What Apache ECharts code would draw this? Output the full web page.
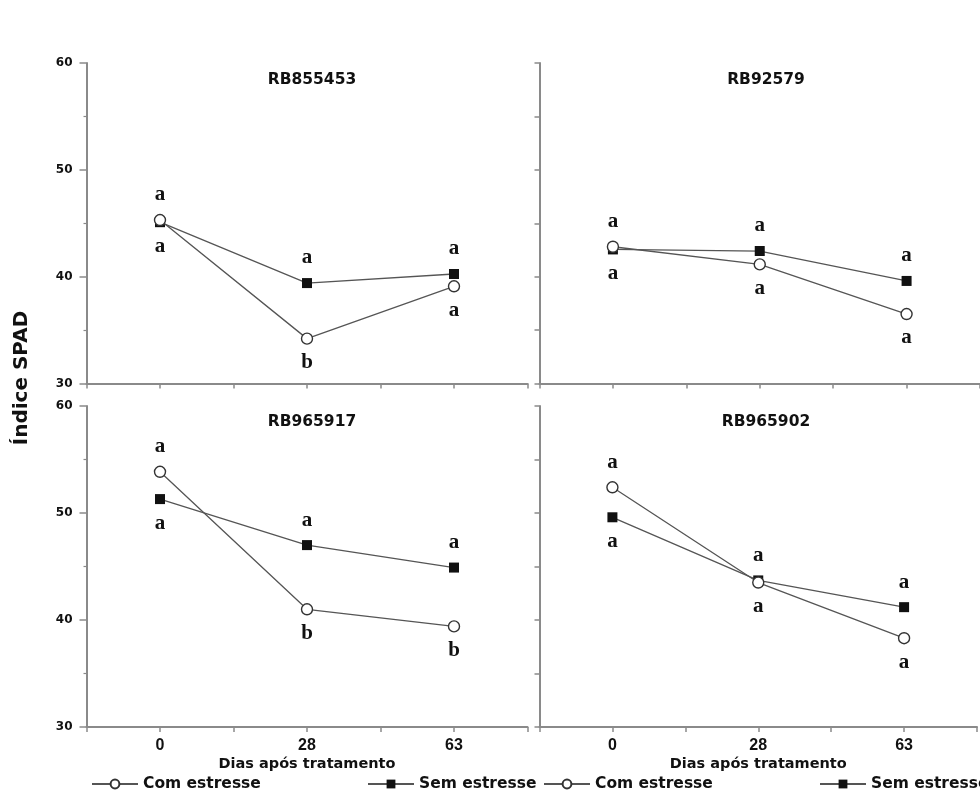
<!DOCTYPE html>
<html>
<head>
<meta charset="utf-8">
<script src="https://cdn.jsdelivr.net/npm/echarts@6/dist/echarts.min.js"></script>
<style>
  html, body { margin: 0; padding: 0; background: #ffffff; }
  #chart { width: 980px; height: 791px; }
</style>
</head>
<body>
<div id="chart"></div>
<script>
// Days after treatment (equally spaced on the axis)
const days = ['0', '28', '63'];

// Cultivar names, one per panel (TL, TR, BL, BR)
const cultivars = ['RB855453', 'RB92579', 'RB965917', 'RB965902'];

// SPAD index with stress (open circles)
const comRB855453 = [45.3, 34.2, 39.1];
const comRB92579  = [42.8, 41.15, 36.5];
const comRB965917 = [53.85, 41.0, 39.4];
const comRB965902 = [52.4, 43.5, 38.3];

// SPAD index without stress (filled squares)
const semRB855453 = [45.1, 39.4, 40.25];
const semRB92579  = [42.55, 42.4, 39.6];
const semRB965917 = [51.3, 47.0, 44.9];
const semRB965902 = [49.6, 43.7, 41.2];

// Mean-comparison letters
const comLetters855453 = ['a', 'b', 'a'];
const semLetters855453 = ['a', 'a', 'a'];
const comLetters92579  = ['a', 'a', 'a'];
const semLetters92579  = ['a', 'a', 'a'];
const comLetters965917 = ['a', 'b', 'b'];
const semLetters965917 = ['a', 'a', 'a'];
const comLetters965902 = ['a', 'a', 'a'];
const semLetters965902 = ['a', 'a', 'a'];

// Y-axis range
const yMin = 30, yMax = 60;

const comAll = [comRB855453, comRB92579, comRB965917, comRB965902];
const semAll = [semRB855453, semRB92579, semRB965917, semRB965902];
const comLet = [comLetters855453, comLetters92579, comLetters965917, comLetters965902];
const semLet = [semLetters855453, semLetters92579, semLetters965917, semLetters965902];

const grids = [
  { left: 86.5, top: 63, width: 441, height: 320.5 },
  { left: 539.5, top: 63, width: 443, height: 320.5 },
  { left: 86.5, top: 406, width: 441, height: 321 },
  { left: 539.5, top: 406, width: 443, height: 321 }
];

const axisGray = '#8a8a8a';
const sansBold = { fontFamily: 'DejaVu Sans', fontWeight: 'bold', color: '#111' };

const xAxes = grids.map((g, i) => ({
  type: 'value', gridIndex: i, min: -0.5, max: 2.5, interval: 0.5,
  axisLine: { show: true, onZero: false, lineStyle: { color: axisGray, width: 2 } },
  axisTick: { show: true, length: 5, lineStyle: { color: axisGray, width: 1.5 } },
  splitLine: { show: false },
  axisLabel: {
    show: i >= 2, margin: 11,
    fontFamily: 'Liberation Sans', fontWeight: 'bold', fontSize: 16, color: '#111',
    formatter: v => (Number.isInteger(v) && v >= 0 && v < days.length) ? days[v] : ''
  },
  name: i >= 2 ? 'Dias após tratamento' : '',
  nameLocation: 'middle', nameGap: 30,
  nameTextStyle: Object.assign({ fontSize: 14.5 }, sansBold)
}));

const yAxes = grids.map((g, i) => {
  const left = (i % 2 === 0);
  return {
    type: 'value', gridIndex: i, min: yMin, max: yMax, interval: left ? 10 : 5,
    axisLine: { show: true, onZero: false, lineStyle: { color: axisGray, width: 2 } },
    axisTick: { show: true, length: left ? 7 : 5, lineStyle: { color: axisGray, width: 1.5 } },
    minorTick: { show: left, splitNumber: 2, length: 3, lineStyle: { color: axisGray, width: 1.2 } },
    splitLine: { show: false },
    axisLabel: Object.assign({ show: left, margin: 14, fontSize: 12 }, sansBold)
  };
});

// Letters go above the higher mark and below the lower one
function letterLabel(text, above) {
  return {
    show: true, position: 'inside', formatter: text,
    offset: [0, above ? -25 : 24], verticalAlign: 'middle', align: 'center',
    fontFamily: 'Liberation Serif', fontWeight: 'bold', fontSize: 21, color: '#111'
  };
}

const series = [];
for (let p = 0; p < 4; p++) {
  const com = comAll[p], sem = semAll[p];
  series.push({
    name: 'Sem estresse', type: 'line', xAxisIndex: p, yAxisIndex: p, z: 2,
    symbol: 'rect', symbolSize: 10,
    lineStyle: { color: '#555', width: 1.3 },
    itemStyle: { color: '#111', borderColor: '#111', borderWidth: 0 },
    data: sem.map((v, k) => ({ value: [k, v], label: letterLabel(semLet[p][k], v > com[k]) })),
    animation: false
  });
  series.push({
    name: 'Com estresse', type: 'line', xAxisIndex: p, yAxisIndex: p, z: 3,
    symbol: 'circle', symbolSize: 11,
    lineStyle: { color: '#555', width: 1.3 },
    itemStyle: { color: '#ffffff', borderColor: '#333', borderWidth: 1.4 },
    data: com.map((v, k) => ({ value: [k, v], label: letterLabel(comLet[p][k], v >= sem[k]) })),
    animation: false
  });
}

const titles = cultivars.map((name, i) => ({
  text: name,
  left: grids[i].left + grids[i].width / 2, textAlign: 'center',
  top: i < 2 ? 67 : 409,
  textStyle: Object.assign({ fontSize: 15.5 }, sansBold)
}));

const legendBase = {
  orient: 'horizontal', itemWidth: 46, itemHeight: 11, top: 771,
  textStyle: Object.assign({ fontSize: 15.5 }, sansBold),
  selectedMode: false
};
const legends = [
  Object.assign({ left: 86, data: ['Com estresse'] }, legendBase),
  Object.assign({ left: 362, data: ['Sem estresse'] }, legendBase),
  Object.assign({ left: 538, data: ['Com estresse'] }, legendBase),
  Object.assign({ left: 814, data: ['Sem estresse'] }, legendBase)
];

const chart = echarts.init(document.getElementById('chart'), null, { renderer: 'canvas' });
chart.setOption({
  backgroundColor: '#ffffff',
  animation: false,
  title: titles,
  legend: legends,
  grid: grids,
  xAxis: xAxes,
  yAxis: yAxes,
  series: series,
  graphic: [{
    type: 'text', x: 22, y: 378, rotation: Math.PI / 2,
    style: {
      text: 'Índice SPAD', x: 0, y: 0, align: 'center', verticalAlign: 'middle',
      font: 'bold 20px "DejaVu Sans"', fill: '#111'
    }
  }]
});
</script>
</body>
</html>
